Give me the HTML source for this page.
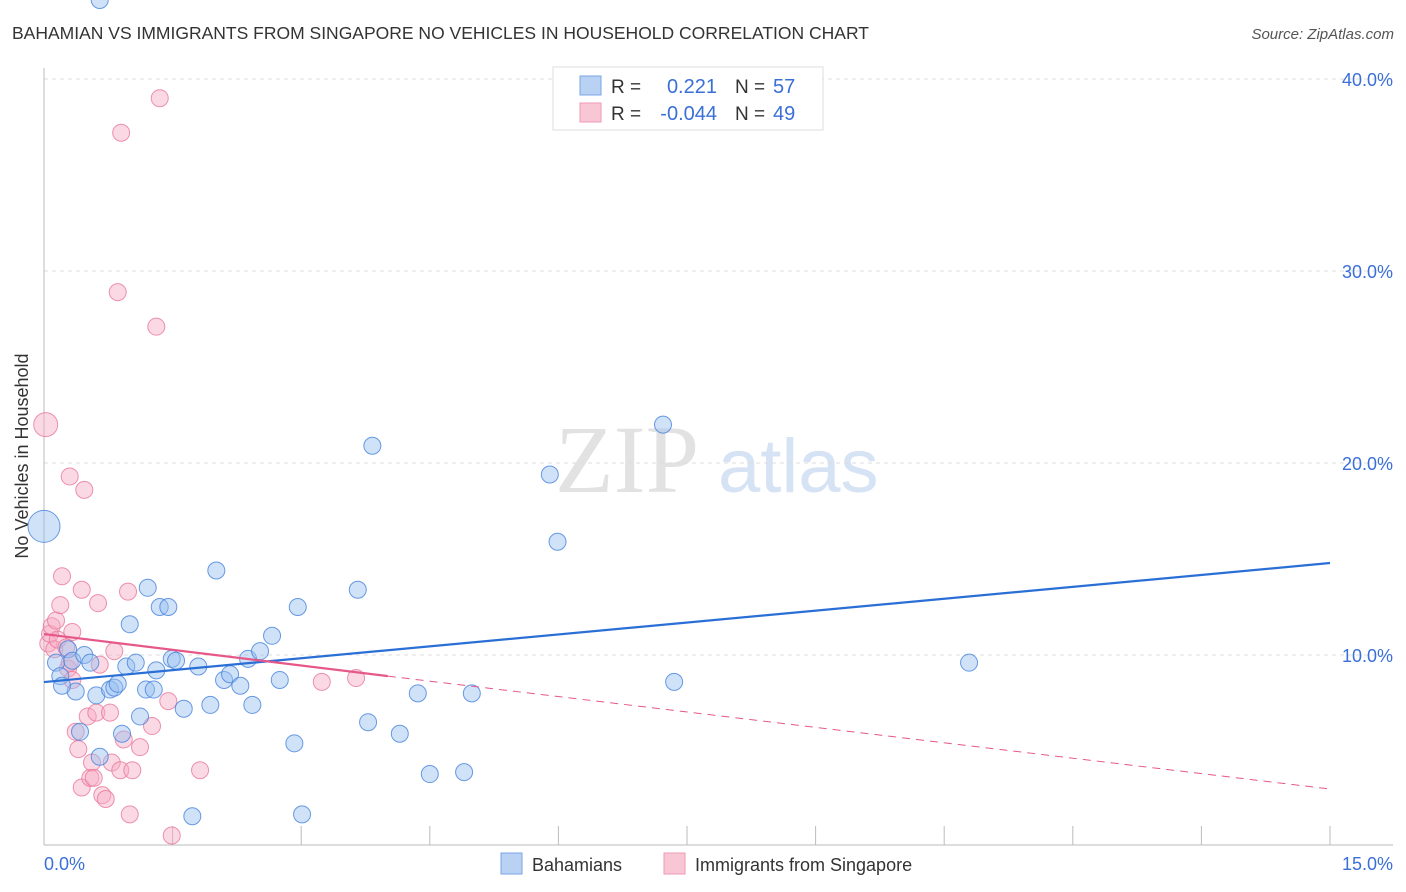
<!DOCTYPE html>
<html><head><meta charset="utf-8"><style>
body{margin:0;background:#fff;font-family:"Liberation Sans",sans-serif;}
svg{display:block}
</style></head><body>
<svg width="1406" height="892" id="chart">
<text x="12" y="39" font-size="17.5" fill="#333">BAHAMIAN VS IMMIGRANTS FROM SINGAPORE NO VEHICLES IN HOUSEHOLD CORRELATION CHART</text>
<text x="1394" y="39" font-size="15" fill="#555" font-style="italic" text-anchor="end">Source: ZipAtlas.com</text>
<g>
<text x="555" y="492" font-size="96" font-family="Liberation Serif,serif" fill="#e2e2e2">ZIP</text>
<text x="718" y="492" font-size="76" fill="#d6e3f5">atlas</text>
</g>
<g id="grid"></g>
<line x1="44" y1="68" x2="44" y2="845" stroke="#bbb"/>
<line x1="44" y1="845" x2="1393" y2="845" stroke="#bbb"/>
<text x="28" y="456" font-size="18" fill="#333" text-anchor="middle" transform="rotate(-90 28 456)">No Vehicles in Household</text>
<text x="44" y="870" font-size="18" fill="#3a6fd8">0.0%</text>
<text x="1393" y="870" font-size="18" fill="#3a6fd8" text-anchor="end">15.0%</text>
<g id="points"></g>
<g id="trends"></g>
<g>
<rect x="553" y="67" width="270" height="63" fill="#fff" stroke="#ddd"/>
<rect x="580" y="76" width="21" height="19" fill="#b9d2f3" stroke="#7aa6e6"/>
<rect x="580" y="103" width="21" height="19" fill="#f9c6d5" stroke="#ee9ab3"/>
<text x="611" y="93" font-size="19" fill="#333">R =</text>
<text x="717" y="93" font-size="20" fill="#3a6fd8" text-anchor="end">0.221</text>
<text x="735" y="93" font-size="19" fill="#333">N =</text>
<text x="773" y="93" font-size="20" fill="#3a6fd8">57</text>
<text x="611" y="120" font-size="19" fill="#333">R =</text>
<text x="717" y="120" font-size="20" fill="#3a6fd8" text-anchor="end">-0.044</text>
<text x="735" y="120" font-size="19" fill="#333">N =</text>
<text x="773" y="120" font-size="20" fill="#3a6fd8">49</text>
</g>
<g>
<rect x="501" y="853" width="21" height="21" fill="#b9d2f3" stroke="#7aa6e6"/>
<text x="532" y="871" font-size="18" fill="#333">Bahamians</text>
<rect x="664" y="853" width="21" height="21" fill="#f9c6d5" stroke="#ee9ab3"/>
<text x="695" y="871" font-size="18" fill="#333">Immigrants from Singapore</text>
</g>
</svg>
<script>
const yTicks=[10,20,30,40];
const yTickLabels=["10.0%","20.0%","30.0%","40.0%"];
const xTicks=[1.5,3,4.5,6,7.5,9,10.5,12,13.5,15];
const blueX=[0,0.14,0.19,0.28,0.33,0.37,0.42,0.47,0.61,0.65,0.77,0.82,0.86,0.91,0.96,1.0,1.07,1.12,1.19,1.21,1.28,1.31,1.35,1.45,1.49,1.54,1.63,1.73,1.80,1.94,2.01,2.10,2.17,2.29,2.38,2.43,2.52,2.66,2.75,2.96,3.01,2.92,3.66,3.78,3.83,4.15,4.36,4.50,4.90,4.99,5.90,5.99,7.22,7.35,10.79,0.21,0.54,0.65];
const blueY=[16.7,9.6,8.9,10.3,9.7,8.1,6.0,10.0,7.9,4.7,8.2,8.3,8.5,5.9,9.4,11.6,9.6,6.8,8.2,13.5,8.2,9.2,12.5,12.5,9.8,9.7,7.2,1.6,9.4,7.4,14.4,8.7,9.0,8.4,9.8,7.4,10.2,11.0,8.7,12.5,1.7,5.4,13.4,6.5,20.9,5.9,8.0,3.8,3.9,8.0,19.4,15.9,22.0,8.6,9.6,8.4,9.6];
const pinkX=[0.02,0.05,0.07,0.09,0.12,0.14,0.16,0.19,0.21,0.26,0.28,0.30,0.30,0.33,0.33,0.37,0.40,0.44,0.44,0.47,0.51,0.54,0.56,0.58,0.61,0.63,0.65,0.68,0.72,0.77,0.79,0.82,0.86,0.89,0.90,0.93,0.98,1.00,1.03,1.12,1.26,1.31,1.35,1.45,1.49,1.82,3.24,3.64];
const pinkY=[22.0,10.6,11.1,11.5,10.3,11.8,10.8,12.6,14.1,10.4,9.3,9.6,19.3,8.7,11.2,6.0,5.1,13.4,3.1,18.6,6.8,3.6,4.4,3.6,7.0,12.7,9.5,2.7,2.5,7.0,4.4,10.2,28.9,4.0,37.2,5.6,13.3,1.7,4.0,5.2,6.3,27.1,39.0,7.6,0.6,4.0,8.6,8.8];
const blueTrendX=[0,15], blueTrendY=[8.59,14.79];
const pinkSolidX=[0,4.01], pinkSolidY=[11.09,8.9];
const pinkDashX=[4.01,15], pinkDashY=[8.9,3.02];
const NS="http://www.w3.org/2000/svg";
const X=v=>44+v/15*1286, Y=v=>847-v*19.2;
function mk(tag,attrs,parent){const e=document.createElementNS(NS,tag);for(const k in attrs)e.setAttribute(k,attrs[k]);parent.appendChild(e);return e;}
const grid=document.getElementById('grid');
yTicks.forEach((t,i)=>{
 const l=mk('line',{x1:44,x2:1393,y1:Y(t),y2:Y(t),stroke:'#ddd','stroke-dasharray':'4,4'},grid);
 
 
 const tx=mk('text',{x:1393,y:Y(t)+7,'font-size':18,fill:'#3a6fd8','text-anchor':'end'},grid);
 tx.textContent=yTickLabels[i];
 
 
});
xTicks.forEach(t=>{
 const l=mk('line',{x1:X(t),x2:X(t),y1:826,y2:845,stroke:'#bbb'},grid);
 
 
});
const pts=document.getElementById('points');
pinkX.forEach((v,i)=>{
 const c=mk('circle',{cx:X(v),cy:Y(pinkY[i]),r:i==0?12:8.5,fill:'rgba(246,170,195,0.45)',stroke:'rgba(232,120,155,0.8)','stroke-width':1},pts);
 
 
});
blueX.forEach((v,i)=>{
 const c=mk('circle',{cx:X(v),cy:Y(blueY[i]),r:i==0?16:8.5,fill:'rgba(150,190,240,0.45)',stroke:'rgba(70,130,220,0.8)','stroke-width':1},pts);
 
 
});
const tr=document.getElementById('trends');
const b=mk('line',{x1:X(blueTrendX[0]),y1:Y(blueTrendY[0]),x2:X(blueTrendX[1]),y2:Y(blueTrendY[1]),stroke:'#2a6fd6','stroke-width':2.2},tr);


const p=mk('line',{x1:X(pinkSolidX[0]),y1:Y(pinkSolidY[0]),x2:X(pinkSolidX[1]),y2:Y(pinkSolidY[1]),stroke:'#e6578a','stroke-width':2.2},tr);


const pd=mk('line',{x1:X(pinkDashX[0]),y1:Y(pinkDashY[0]),x2:X(pinkDashX[1]),y2:Y(pinkDashY[1]),stroke:'#e6578a','stroke-width':1,'stroke-dasharray':'8,6'},tr);


</script>
</body></html>
